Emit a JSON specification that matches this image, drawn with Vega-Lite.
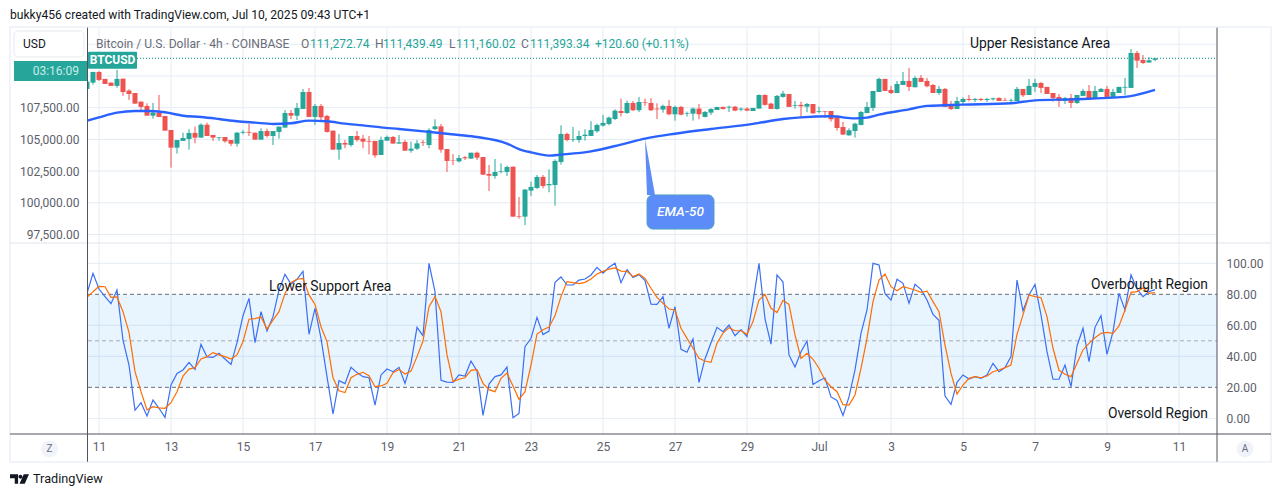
{
"$schema":"https://vega.github.io/schema/vega-lite/v6.json",
"width":1281,"height":497,"padding":0,
"autosize":{"type":"fit","contains":"padding"},
"background":"white",
"config":{"view":{"stroke":null},"font":"Roboto","axis":{"labelFont":"Roboto"}},
"datasets":{
"days":[{"t":"2025-06-11T00:00"},{"t":"2025-06-13T00:00"},{"t":"2025-06-15T00:00"},{"t":"2025-06-17T00:00"},{"t":"2025-06-19T00:00"},{"t":"2025-06-21T00:00"},{"t":"2025-06-23T00:00"},{"t":"2025-06-25T00:00"},{"t":"2025-06-27T00:00"},{"t":"2025-06-29T00:00"},{"t":"2025-07-01T00:00"},{"t":"2025-07-03T00:00"},{"t":"2025-07-05T00:00"},{"t":"2025-07-07T00:00"},{"t":"2025-07-09T00:00"},{"t":"2025-07-11T00:00"}],
"candles":[
{"t":"2025-06-10T16:00","o":108980,"h":109560,"l":108980,"c":109560,"k":80.6,"d":78.0},
{"t":"2025-06-10T20:00","o":109480,"h":110320,"l":109320,"c":110320,"k":93.5,"d":81.7},
{"t":"2025-06-11T00:00","o":110320,"h":110370,"l":109610,"c":109690,"k":83.4,"d":85.1},
{"t":"2025-06-11T04:00","o":109770,"h":109770,"l":109370,"c":109370,"k":78.5,"d":84.9},
{"t":"2025-06-11T08:00","o":109480,"h":109480,"l":109220,"c":109220,"k":74.0,"d":78.0},
{"t":"2025-06-11T12:00","o":109220,"h":110480,"l":109080,"c":109770,"k":82.8,"d":78.3},
{"t":"2025-06-11T16:00","o":109790,"h":109790,"l":108430,"c":108740,"k":50.5,"d":68.8},
{"t":"2025-06-11T20:00","o":108850,"h":108950,"l":108110,"c":108580,"k":34.4,"d":55.5},
{"t":"2025-06-12T00:00","o":108660,"h":108660,"l":107820,"c":107820,"k":5.2,"d":30.1},
{"t":"2025-06-12T04:00","o":107980,"h":107980,"l":107320,"c":107560,"k":10.1,"d":17.2},
{"t":"2025-06-12T08:00","o":107640,"h":107850,"l":106870,"c":106870,"k":1.5,"d":5.4},
{"t":"2025-06-12T12:00","o":106870,"h":107870,"l":106640,"c":107110,"k":11.8,"d":7.5},
{"t":"2025-06-12T16:00","o":107110,"h":108500,"l":106770,"c":106770,"k":6.5,"d":6.7},
{"t":"2025-06-12T20:00","o":106850,"h":106850,"l":105690,"c":105690,"k":0.6,"d":6.5},
{"t":"2025-06-13T00:00","o":105740,"h":105740,"l":102770,"c":104350,"k":21.5,"d":10.1},
{"t":"2025-06-13T04:00","o":104350,"h":104950,"l":103880,"c":104950,"k":29.0,"d":17.2},
{"t":"2025-06-13T08:00","o":104880,"h":105530,"l":104880,"c":105110,"k":31.2,"d":27.3},
{"t":"2025-06-13T12:00","o":105030,"h":105800,"l":104190,"c":105510,"k":36.1,"d":31.8},
{"t":"2025-06-13T16:00","o":105510,"h":106010,"l":104690,"c":105140,"k":31.6,"d":32.7},
{"t":"2025-06-13T20:00","o":105140,"h":106270,"l":105140,"c":106160,"k":47.7,"d":38.3},
{"t":"2025-06-14T00:00","o":106160,"h":106320,"l":105270,"c":105270,"k":39.6,"d":39.8},
{"t":"2025-06-14T04:00","o":105350,"h":105350,"l":104880,"c":105140,"k":39.3,"d":42.4},
{"t":"2025-06-14T08:00","o":105140,"h":105190,"l":104900,"c":105190,"k":41.9,"d":40.9},
{"t":"2025-06-14T12:00","o":105190,"h":105190,"l":104740,"c":104850,"k":38.3,"d":39.8},
{"t":"2025-06-14T16:00","o":104950,"h":104950,"l":104480,"c":104660,"k":34.8,"d":38.3},
{"t":"2025-06-14T20:00","o":104660,"h":105590,"l":104430,"c":105530,"k":48.8,"d":40.9},
{"t":"2025-06-15T00:00","o":105530,"h":105740,"l":105400,"c":105590,"k":66.2,"d":49.5},
{"t":"2025-06-15T04:00","o":105590,"h":106220,"l":105270,"c":105530,"k":77.4,"d":63.9},
{"t":"2025-06-15T08:00","o":105530,"h":105530,"l":104980,"c":104980,"k":48.8,"d":64.3},
{"t":"2025-06-15T12:00","o":104980,"h":105880,"l":104980,"c":105660,"k":68.8,"d":65.4},
{"t":"2025-06-15T16:00","o":105660,"h":105850,"l":105140,"c":105270,"k":56.3,"d":57.6},
{"t":"2025-06-15T20:00","o":105270,"h":105660,"l":104560,"c":105660,"k":65.6,"d":63.4},
{"t":"2025-06-16T00:00","o":105590,"h":106010,"l":105060,"c":106010,"k":82.8,"d":68.8},
{"t":"2025-06-16T04:00","o":105930,"h":107320,"l":105930,"c":107080,"k":92.9,"d":80.6},
{"t":"2025-06-16T08:00","o":107080,"h":107320,"l":106590,"c":106870,"k":86.6,"d":87.7},
{"t":"2025-06-16T12:00","o":106870,"h":107870,"l":106530,"c":107480,"k":89.7,"d":89.7},
{"t":"2025-06-16T16:00","o":107400,"h":108980,"l":107400,"c":108740,"k":94.8,"d":90.3},
{"t":"2025-06-16T20:00","o":108740,"h":109060,"l":106770,"c":106770,"k":54.2,"d":79.6},
{"t":"2025-06-17T00:00","o":106770,"h":107790,"l":106140,"c":107640,"k":71.0,"d":73.5},
{"t":"2025-06-17T04:00","o":107640,"h":107790,"l":106530,"c":106740,"k":51.6,"d":59.1},
{"t":"2025-06-17T08:00","o":106850,"h":106930,"l":105530,"c":105590,"k":26.9,"d":49.5},
{"t":"2025-06-17T12:00","o":105690,"h":105690,"l":104190,"c":104190,"k":2.8,"d":26.2},
{"t":"2025-06-17T16:00","o":104190,"h":105430,"l":103400,"c":104720,"k":24.3,"d":17.8},
{"t":"2025-06-17T20:00","o":104720,"h":104950,"l":104300,"c":104590,"k":22.4,"d":16.6},
{"t":"2025-06-18T00:00","o":104560,"h":105270,"l":104430,"c":105270,"k":32.9,"d":26.2},
{"t":"2025-06-18T04:00","o":105270,"h":105660,"l":104820,"c":104950,"k":29.5,"d":28.4},
{"t":"2025-06-18T08:00","o":105060,"h":105350,"l":104300,"c":104820,"k":26.9,"d":29.7},
{"t":"2025-06-18T12:00","o":104880,"h":105270,"l":103820,"c":104820,"k":26.2,"d":27.5},
{"t":"2025-06-18T16:00","o":104880,"h":104880,"l":103560,"c":103740,"k":8.6,"d":20.4},
{"t":"2025-06-18T20:00","o":103770,"h":105220,"l":103770,"c":104950,"k":28.0,"d":20.9},
{"t":"2025-06-19T00:00","o":104900,"h":105300,"l":104900,"c":105190,"k":31.8,"d":22.6},
{"t":"2025-06-19T04:00","o":105190,"h":105270,"l":104670,"c":104670,"k":30.1,"d":29.5},
{"t":"2025-06-19T08:00","o":104670,"h":105350,"l":104670,"c":104770,"k":32.9,"d":31.6},
{"t":"2025-06-19T12:00","o":104800,"h":104950,"l":104110,"c":104110,"k":22.6,"d":28.6},
{"t":"2025-06-19T16:00","o":104110,"h":104820,"l":103950,"c":104270,"k":35.5,"d":30.5},
{"t":"2025-06-19T20:00","o":104270,"h":104950,"l":104170,"c":104690,"k":58.7,"d":39.8},
{"t":"2025-06-20T00:00","o":104770,"h":104950,"l":104480,"c":104720,"k":53.3,"d":49.9},
{"t":"2025-06-20T04:00","o":104560,"h":105880,"l":104300,"c":105740,"k":100.0,"d":72.0},
{"t":"2025-06-20T08:00","o":105820,"h":106590,"l":105740,"c":106030,"k":81.7,"d":78.5},
{"t":"2025-06-20T12:00","o":106030,"h":106220,"l":103950,"c":104190,"k":24.5,"d":68.8},
{"t":"2025-06-20T16:00","o":104240,"h":104240,"l":102430,"c":103300,"k":23.4,"d":40.9},
{"t":"2025-06-20T20:00","o":103350,"h":103850,"l":102980,"c":103320,"k":23.2,"d":23.7},
{"t":"2025-06-21T00:00","o":103270,"h":103770,"l":103190,"c":103530,"k":28.0,"d":25.2},
{"t":"2025-06-21T04:00","o":103590,"h":103690,"l":103380,"c":103510,"k":27.3,"d":26.2},
{"t":"2025-06-21T08:00","o":103480,"h":103950,"l":103480,"c":103950,"k":37.0,"d":31.0},
{"t":"2025-06-21T12:00","o":103950,"h":104030,"l":103380,"c":103560,"k":30.5,"d":31.4},
{"t":"2025-06-21T16:00","o":103610,"h":103610,"l":102220,"c":102220,"k":1.9,"d":22.6},
{"t":"2025-06-21T20:00","o":102270,"h":102980,"l":100930,"c":102140,"k":22.1,"d":18.5},
{"t":"2025-06-22T00:00","o":102110,"h":103450,"l":101900,"c":102430,"k":26.9,"d":17.2},
{"t":"2025-06-22T04:00","o":102430,"h":103110,"l":102320,"c":102480,"k":28.0,"d":25.8},
{"t":"2025-06-22T08:00","o":102430,"h":102930,"l":102110,"c":102820,"k":33.1,"d":29.2},
{"t":"2025-06-22T12:00","o":102850,"h":102850,"l":98910,"c":98910,"k":0.4,"d":20.9},
{"t":"2025-06-22T16:00","o":98930,"h":100460,"l":98750,"c":98880,"k":3.2,"d":12.3},
{"t":"2025-06-22T20:00","o":98910,"h":101090,"l":98250,"c":101040,"k":46.2,"d":17.2},
{"t":"2025-06-23T00:00","o":100960,"h":101670,"l":100540,"c":101250,"k":51.6,"d":34.4},
{"t":"2025-06-23T04:00","o":101170,"h":102190,"l":101090,"c":102040,"k":65.1,"d":54.4},
{"t":"2025-06-23T08:00","o":102040,"h":102190,"l":101140,"c":101330,"k":54.0,"d":57.2},
{"t":"2025-06-23T12:00","o":101380,"h":102640,"l":100830,"c":101480,"k":56.3,"d":58.9},
{"t":"2025-06-23T16:00","o":101400,"h":103430,"l":99780,"c":103300,"k":87.7,"d":66.2},
{"t":"2025-06-23T20:00","o":103220,"h":106110,"l":103010,"c":105430,"k":91.2,"d":78.5},
{"t":"2025-06-24T00:00","o":105430,"h":105530,"l":104850,"c":104950,"k":86.0,"d":88.2},
{"t":"2025-06-24T04:00","o":104980,"h":105980,"l":104800,"c":105030,"k":86.0,"d":87.5},
{"t":"2025-06-24T08:00","o":104950,"h":105690,"l":104740,"c":105270,"k":89.2,"d":86.9},
{"t":"2025-06-24T12:00","o":105270,"h":105800,"l":104900,"c":105370,"k":89.9,"d":87.7},
{"t":"2025-06-24T16:00","o":105270,"h":106430,"l":105270,"c":105740,"k":92.5,"d":89.9},
{"t":"2025-06-24T20:00","o":105640,"h":106240,"l":105530,"c":106140,"k":97.4,"d":93.1},
{"t":"2025-06-25T00:00","o":106090,"h":106930,"l":106010,"c":106300,"k":93.7,"d":94.8},
{"t":"2025-06-25T04:00","o":106220,"h":106800,"l":106110,"c":106720,"k":97.4,"d":96.3},
{"t":"2025-06-25T08:00","o":106610,"h":107370,"l":106530,"c":107270,"k":100.0,"d":97.0},
{"t":"2025-06-25T12:00","o":107240,"h":108220,"l":106800,"c":107080,"k":87.5,"d":95.0},
{"t":"2025-06-25T16:00","o":107080,"h":108060,"l":107010,"c":107870,"k":95.9,"d":94.8},
{"t":"2025-06-25T20:00","o":107870,"h":108030,"l":107240,"c":107300,"k":90.9,"d":91.4},
{"t":"2025-06-26T00:00","o":107300,"h":108350,"l":107160,"c":107950,"k":92.7,"d":93.1},
{"t":"2025-06-26T04:00","o":107950,"h":108220,"l":107640,"c":107900,"k":88.8,"d":90.3},
{"t":"2025-06-26T08:00","o":107870,"h":108240,"l":107240,"c":107300,"k":73.7,"d":83.9},
{"t":"2025-06-26T12:00","o":107430,"h":107850,"l":106610,"c":107370,"k":73.5,"d":78.0},
{"t":"2025-06-26T16:00","o":107350,"h":107740,"l":107110,"c":107640,"k":78.5,"d":74.2},
{"t":"2025-06-26T20:00","o":107640,"h":108110,"l":106900,"c":106980,"k":58.1,"d":70.5},
{"t":"2025-06-27T00:00","o":106980,"h":107660,"l":106480,"c":107560,"k":72.0,"d":69.9},
{"t":"2025-06-27T04:00","o":107560,"h":107640,"l":106900,"c":106950,"k":44.5,"d":58.1},
{"t":"2025-06-27T08:00","o":107030,"h":107190,"l":106800,"c":107080,"k":42.6,"d":51.6},
{"t":"2025-06-27T12:00","o":107030,"h":107510,"l":106480,"c":107430,"k":51.2,"d":45.2},
{"t":"2025-06-27T16:00","o":107430,"h":107790,"l":106590,"c":106980,"k":23.2,"d":38.7},
{"t":"2025-06-27T20:00","o":106770,"h":107240,"l":106740,"c":107160,"k":38.3,"d":37.0},
{"t":"2025-06-28T00:00","o":107110,"h":107450,"l":106930,"c":107400,"k":48.8,"d":36.1},
{"t":"2025-06-28T04:00","o":107320,"h":107560,"l":107320,"c":107560,"k":58.7,"d":48.4},
{"t":"2025-06-28T08:00","o":107560,"h":107580,"l":107350,"c":107400,"k":55.9,"d":55.0},
{"t":"2025-06-28T12:00","o":107510,"h":107660,"l":107160,"c":107580,"k":60.2,"d":58.5},
{"t":"2025-06-28T16:00","o":107580,"h":107640,"l":107220,"c":107270,"k":53.3,"d":56.5},
{"t":"2025-06-28T20:00","o":107350,"h":107510,"l":107220,"c":107430,"k":57.2,"d":56.5},
{"t":"2025-06-29T00:00","o":107430,"h":107530,"l":107220,"c":107270,"k":52.7,"d":54.2},
{"t":"2025-06-29T04:00","o":107240,"h":107480,"l":107240,"c":107480,"k":75.3,"d":62.4},
{"t":"2025-06-29T08:00","o":107430,"h":108550,"l":107430,"c":108500,"k":100.0,"d":76.3},
{"t":"2025-06-29T12:00","o":108500,"h":108560,"l":107660,"c":107720,"k":64.1,"d":80.0},
{"t":"2025-06-29T16:00","o":107820,"h":107900,"l":107400,"c":107400,"k":47.9,"d":71.0},
{"t":"2025-06-29T20:00","o":107400,"h":108500,"l":107350,"c":108430,"k":92.5,"d":68.2},
{"t":"2025-06-30T00:00","o":108350,"h":108820,"l":108290,"c":108610,"k":87.9,"d":76.1},
{"t":"2025-06-30T04:00","o":108580,"h":108580,"l":107560,"c":107560,"k":40.9,"d":73.5},
{"t":"2025-06-30T08:00","o":107640,"h":108030,"l":107430,"c":107690,"k":33.1,"d":53.8},
{"t":"2025-06-30T12:00","o":107720,"h":107980,"l":106720,"c":107610,"k":43.0,"d":38.7},
{"t":"2025-06-30T16:00","o":107580,"h":107870,"l":107140,"c":107790,"k":49.9,"d":41.9},
{"t":"2025-06-30T20:00","o":107790,"h":107790,"l":107010,"c":107060,"k":21.9,"d":38.1},
{"t":"2025-07-01T00:00","o":107160,"h":107580,"l":107060,"c":107220,"k":24.3,"d":32.3},
{"t":"2025-07-01T04:00","o":107240,"h":107240,"l":106720,"c":107190,"k":26.0,"d":24.7},
{"t":"2025-07-01T08:00","o":107240,"h":107240,"l":106400,"c":106590,"k":13.8,"d":20.4},
{"t":"2025-07-01T12:00","o":106740,"h":106900,"l":105690,"c":105900,"k":11.6,"d":17.2},
{"t":"2025-07-01T16:00","o":105980,"h":106370,"l":105380,"c":105380,"k":1.9,"d":8.8},
{"t":"2025-07-01T20:00","o":105320,"h":105880,"l":105300,"c":105720,"k":13.8,"d":8.6},
{"t":"2025-07-02T00:00","o":105660,"h":106320,"l":105140,"c":106240,"k":31.2,"d":15.1},
{"t":"2025-07-02T04:00","o":106140,"h":107240,"l":106110,"c":107160,"k":54.8,"d":32.3},
{"t":"2025-07-02T08:00","o":107080,"h":107950,"l":107060,"c":107560,"k":69.9,"d":51.6},
{"t":"2025-07-02T12:00","o":107480,"h":108820,"l":107240,"c":108820,"k":100.0,"d":75.3},
{"t":"2025-07-02T16:00","o":108740,"h":109870,"l":108740,"c":109770,"k":98.9,"d":89.2},
{"t":"2025-07-02T20:00","o":109770,"h":109770,"l":108820,"c":108820,"k":80.4,"d":93.1},
{"t":"2025-07-03T00:00","o":108900,"h":109220,"l":108580,"c":108660,"k":76.3,"d":84.9},
{"t":"2025-07-03T04:00","o":108660,"h":109610,"l":108660,"c":109370,"k":89.7,"d":82.3},
{"t":"2025-07-03T08:00","o":109290,"h":110320,"l":109290,"c":109610,"k":87.1,"d":84.9},
{"t":"2025-07-03T12:00","o":109610,"h":110640,"l":108820,"c":109140,"k":74.2,"d":83.9},
{"t":"2025-07-03T16:00","o":109110,"h":109980,"l":109110,"c":109850,"k":86.4,"d":82.8},
{"t":"2025-07-03T20:00","o":109850,"h":110080,"l":109530,"c":109530,"k":83.2,"d":81.3},
{"t":"2025-07-04T00:00","o":109610,"h":109850,"l":109110,"c":109190,"k":76.3,"d":82.1},
{"t":"2025-07-04T04:00","o":109290,"h":109370,"l":108660,"c":108660,"k":67.1,"d":75.3},
{"t":"2025-07-04T08:00","o":108660,"h":109220,"l":108500,"c":108980,"k":63.2,"d":68.8},
{"t":"2025-07-04T12:00","o":108980,"h":109060,"l":107560,"c":107560,"k":14.4,"d":47.3},
{"t":"2025-07-04T16:00","o":107640,"h":108030,"l":107320,"c":107400,"k":9.0,"d":29.0},
{"t":"2025-07-04T20:00","o":107400,"h":108350,"l":107400,"c":108030,"k":23.2,"d":15.7},
{"t":"2025-07-05T00:00","o":107950,"h":108320,"l":107790,"c":108190,"k":28.0,"d":21.5},
{"t":"2025-07-05T04:00","o":108190,"h":108500,"l":108010,"c":108110,"k":25.4,"d":25.8},
{"t":"2025-07-05T08:00","o":108110,"h":108270,"l":107950,"c":108190,"k":26.9,"d":26.9},
{"t":"2025-07-05T12:00","o":108190,"h":108270,"l":108010,"c":108110,"k":25.8,"d":26.2},
{"t":"2025-07-05T16:00","o":108110,"h":108270,"l":107950,"c":108190,"k":28.0,"d":27.3},
{"t":"2025-07-05T20:00","o":108160,"h":108290,"l":108060,"c":108240,"k":35.5,"d":30.1},
{"t":"2025-07-06T00:00","o":108270,"h":108320,"l":108030,"c":108030,"k":30.1,"d":31.2},
{"t":"2025-07-06T04:00","o":108110,"h":108270,"l":108060,"c":108060,"k":32.7,"d":32.7},
{"t":"2025-07-06T08:00","o":108060,"h":108220,"l":107870,"c":108110,"k":39.8,"d":34.4},
{"t":"2025-07-06T12:00","o":108030,"h":109140,"l":108030,"c":108980,"k":89.2,"d":54.2},
{"t":"2025-07-06T16:00","o":108980,"h":108980,"l":108350,"c":108480,"k":69.4,"d":66.7},
{"t":"2025-07-06T20:00","o":108500,"h":109770,"l":108500,"c":109220,"k":79.6,"d":79.6},
{"t":"2025-07-07T00:00","o":109140,"h":109770,"l":108740,"c":109450,"k":86.4,"d":78.5},
{"t":"2025-07-07T04:00","o":109450,"h":109530,"l":108660,"c":109060,"k":66.7,"d":77.8},
{"t":"2025-07-07T08:00","o":109140,"h":109140,"l":108580,"c":108580,"k":43.0,"d":65.6},
{"t":"2025-07-07T12:00","o":108660,"h":108660,"l":107980,"c":108270,"k":25.2,"d":45.2},
{"t":"2025-07-07T16:00","o":108350,"h":108580,"l":107560,"c":108030,"k":25.2,"d":31.0},
{"t":"2025-07-07T20:00","o":108030,"h":108350,"l":107790,"c":108270,"k":34.4,"d":28.4},
{"t":"2025-07-08T00:00","o":108270,"h":108580,"l":107480,"c":107870,"k":20.4,"d":26.9},
{"t":"2025-07-08T04:00","o":107870,"h":108500,"l":107790,"c":108500,"k":46.7,"d":35.5},
{"t":"2025-07-08T08:00","o":108430,"h":108980,"l":108430,"c":108820,"k":58.1,"d":44.1},
{"t":"2025-07-08T12:00","o":108820,"h":109290,"l":108190,"c":108190,"k":36.6,"d":48.4},
{"t":"2025-07-08T16:00","o":108190,"h":109220,"l":108190,"c":108820,"k":58.7,"d":52.0},
{"t":"2025-07-08T20:00","o":108740,"h":109060,"l":108740,"c":108980,"k":66.2,"d":54.8},
{"t":"2025-07-09T00:00","o":108980,"h":109220,"l":108350,"c":108350,"k":41.3,"d":55.5},
{"t":"2025-07-09T04:00","o":108350,"h":108980,"l":108350,"c":108740,"k":55.9,"d":54.8},
{"t":"2025-07-09T08:00","o":108660,"h":109140,"l":108660,"c":109140,"k":80.6,"d":59.6},
{"t":"2025-07-09T12:00","o":109080,"h":109850,"l":108500,"c":109140,"k":69.9,"d":69.9},
{"t":"2025-07-09T16:00","o":109060,"h":112130,"l":109060,"c":111820,"k":92.5,"d":81.3},
{"t":"2025-07-09T20:00","o":111820,"h":111980,"l":110640,"c":111210,"k":83.4,"d":81.7},
{"t":"2025-07-10T00:00","o":111270,"h":111660,"l":110950,"c":111030,"k":78.5,"d":84.1},
{"t":"2025-07-10T04:00","o":111060,"h":111500,"l":111060,"c":111240,"k":81.7,"d":80.6},
{"t":"2025-07-10T08:00","o":111272.74,"h":111439.49,"l":111160.02,"c":111393.34,"k":83.0,"d":81.1}
],
"ema":[
{"t":"2025-06-10T16:00","p":106480},{"t":"2025-06-11T00:00","p":106740},{"t":"2025-06-11T12:00","p":107110},{"t":"2025-06-12T00:00","p":107240},{"t":"2025-06-12T08:00","p":107240},{"t":"2025-06-12T20:00","p":107140},{"t":"2025-06-13T08:00","p":106870},{"t":"2025-06-13T20:00","p":106770},{"t":"2025-06-14T08:00","p":106610},{"t":"2025-06-14T20:00","p":106430},{"t":"2025-06-15T08:00","p":106320},{"t":"2025-06-15T20:00","p":106220},{"t":"2025-06-16T08:00","p":106270},{"t":"2025-06-16T20:00","p":106480},{"t":"2025-06-17T08:00","p":106430},{"t":"2025-06-17T20:00","p":106240},{"t":"2025-06-18T08:00","p":106110},{"t":"2025-06-18T20:00","p":105950},{"t":"2025-06-19T08:00","p":105820},{"t":"2025-06-20T04:00","p":105590},{"t":"2025-06-21T00:00","p":105350},{"t":"2025-06-21T12:00","p":105190},{"t":"2025-06-22T08:00","p":104670},{"t":"2025-06-22T16:00","p":104240},{"t":"2025-06-23T00:00","p":103980},{"t":"2025-06-23T12:00","p":103720},{"t":"2025-06-23T20:00","p":103800},{"t":"2025-06-24T16:00","p":104060},{"t":"2025-06-25T12:00","p":104590},{"t":"2025-06-26T04:00","p":105060},{"t":"2025-06-27T00:00","p":105450},{"t":"2025-06-28T00:00","p":105820},{"t":"2025-06-29T04:00","p":106220},{"t":"2025-06-30T00:00","p":106610},{"t":"2025-06-30T12:00","p":106740},{"t":"2025-07-01T08:00","p":106820},{"t":"2025-07-02T00:00","p":106660},{"t":"2025-07-02T08:00","p":106720},{"t":"2025-07-02T16:00","p":106950},{"t":"2025-07-03T12:00","p":107370},{"t":"2025-07-04T00:00","p":107640},{"t":"2025-07-04T12:00","p":107690},{"t":"2025-07-05T00:00","p":107740},{"t":"2025-07-06T08:00","p":107850},{"t":"2025-07-07T00:00","p":108080},{"t":"2025-07-08T00:00","p":108160},{"t":"2025-07-09T12:00","p":108350},{"t":"2025-07-10T08:00","p":108900}
]
},
"resolve":{"scale":{"y":"independent"},"axis":{"y":"independent"}},
"layer":[
{"layer":[
{"data":{"values":[{"p":97500,"a":"2025-06-10T16:40","b":"2025-07-12T01:20"},{"p":100000,"a":"2025-06-10T16:40","b":"2025-07-12T01:20"},{"p":102500,"a":"2025-06-10T16:40","b":"2025-07-12T01:20"},{"p":105000,"a":"2025-06-10T16:40","b":"2025-07-12T01:20"},{"p":107500,"a":"2025-06-10T16:40","b":"2025-07-12T01:20"},{"p":110000,"a":"2025-06-10T16:40","b":"2025-07-12T01:20"},{"p":112500,"a":"2025-06-10T16:40","b":"2025-07-12T01:20"}]},
 "mark":{"type":"rule","color":"#e4ecf3","strokeWidth":1},
 "encoding":{
  "y":{"field":"p","type":"quantitative","scale":{"domain":[96830,113785],"range":[243,28],"zero":false,"nice":false},
   "axis":{"orient":"left","offset":-88,"title":null,"grid":false,"ticks":false,"domain":false,"zindex":1,"labelPadding":9,"labelFontSize":12,"labelColor":"#5d606b","format":",.2f","values":[97500,100000,102500,105000,107500]}},
  "x":{"field":"a","type":"temporal"},
  "x2":{"field":"b"}}},
{"data":{"name":"days"},
 "mark":{"type":"rule","color":"#e4ecf3","strokeWidth":1},
 "encoding":{"x":{"field":"t","type":"temporal"},"y":{"datum":96830},"y2":{"datum":113785}}},
{"mark":{"type":"rule","color":"#26a69a","strokeWidth":1.3,"strokeDash":[1,2]},
 "data":{"values":[{"p":111393.34,"a":"2025-06-12T01:20","b":"2025-07-12T01:20"}]},
 "encoding":{"y":{"field":"p","type":"quantitative"},"x":{"field":"a","type":"temporal"},"x2":{"field":"b"}}},
{"data":{"name":"candles"},
 "mark":{"type":"rule","strokeWidth":1},
 "encoding":{"x":{"field":"t","type":"temporal"},"y":{"field":"l","type":"quantitative"},"y2":{"field":"h"},
  "color":{"condition":{"test":"datum.c>=datum.o","value":"#26a69a"},"value":"#ef5350"}}},
{"data":{"name":"candles"},
 "mark":{"type":"bar","size":5},
 "encoding":{"x":{"field":"t","type":"temporal"},"y":{"field":"o","type":"quantitative"},"y2":{"field":"c"},
  "color":{"condition":{"test":"datum.c>=datum.o","value":"#26a69a"},"value":"#ef5350"}}},
{"data":{"name":"ema"},
 "mark":{"type":"line","color":"#2962ff","strokeWidth":2.4,"interpolate":"monotone"},
 "encoding":{"x":{"field":"t","type":"temporal"},"y":{"field":"p","type":"quantitative"}}},
{"data":{"values":[{"p":105060,"a":"2025-06-26T04:00","b":"2025-06-26T04:00"},{"p":100620,"a":"2025-06-26T05:20","b":"2025-06-26T10:40"}]},
 "mark":{"type":"area","orient":"horizontal","color":"#5b8cf8","line":false},
 "encoding":{"y":{"field":"p","type":"quantitative"},"x":{"field":"a","type":"temporal"},"x2":{"field":"b"}}},
{"data":{"values":[{"a":"2025-06-26T05:20","b":"2025-06-28T02:00","p":100620,"q":97930}]},
 "mark":{"type":"rect","color":"#5b8cf8","stroke":"#4fa3c7","strokeWidth":1,"cornerRadius":6},
 "encoding":{"x":{"field":"a","type":"temporal"},"x2":{"field":"b"},"y":{"field":"p","type":"quantitative"},"y2":{"field":"q"}}},
{"data":{"values":[{"t":"2025-06-27T03:40","p":99270,"label":"EMA-50"}]},
 "mark":{"type":"text","color":"white","fontSize":13.5,"fontStyle":"italic","fontWeight":500,"align":"center","baseline":"middle"},
 "encoding":{"x":{"field":"t","type":"temporal"},"y":{"field":"p","type":"quantitative"},"text":{"field":"label"}}},
{"data":{"values":[{"t":"2025-07-05T04:40","p":112520,"label":"Upper Resistance Area"}]},
 "mark":{"type":"text","color":"#131722","fontSize":13.9,"align":"left","baseline":"middle"},
 "encoding":{"x":{"field":"t","type":"temporal"},"y":{"field":"p","type":"quantitative"},"text":{"field":"label"}}}
]},
{"layer":[
{"data":{"values":[{"v":100,"a":"2025-06-10T16:40","b":"2025-07-12T01:20"},{"v":60,"a":"2025-06-10T16:40","b":"2025-07-12T01:20"},{"v":40,"a":"2025-06-10T16:40","b":"2025-07-12T01:20"},{"v":0,"a":"2025-06-10T16:40","b":"2025-07-12T01:20"}]},
 "mark":{"type":"rule","color":"#e4ecf3","strokeWidth":1},
 "encoding":{
  "y":{"field":"v","type":"quantitative","scale":{"domain":[-10.1,113.1],"range":[434,243],"zero":false,"nice":false},
   "axis":{"orient":"right","offset":-64,"title":null,"grid":false,"ticks":false,"domain":false,"labelPadding":9,"labelFontSize":12,"labelColor":"#5d606b","format":".2f","values":[0,20,40,60,80,100]}},
  "x":{"field":"a","type":"temporal"},
  "x2":{"field":"b"}}},
{"data":{"name":"days"},
 "mark":{"type":"rule","color":"#e4ecf3","strokeWidth":1},
 "encoding":{
  "x":{"field":"t","type":"temporal","scale":{"domain":["2025-06-10T16:40","2025-07-12T01:20"],"range":[88,1217],"padding":0},
   "axis":{"orient":"bottom","offset":-63,"title":null,"grid":false,"ticks":false,"domain":false,"labelPadding":7,"labelFontSize":12,"labelColor":"#5d606b","labelOverlap":false,"labelFlush":false,"values":["2025-06-11T00:00","2025-06-13T00:00","2025-06-15T00:00","2025-06-17T00:00","2025-06-19T00:00","2025-06-21T00:00","2025-06-23T00:00","2025-06-25T00:00","2025-06-27T00:00","2025-06-29T00:00","2025-07-01T00:00","2025-07-03T00:00","2025-07-05T00:00","2025-07-07T00:00","2025-07-09T00:00","2025-07-11T00:00"],"labelExpr":"date(datum.value)==1?'Jul':''+date(datum.value)"}},
  "y":{"datum":-10.1},"y2":{"datum":113.1}}},
{"data":{"values":[{"v":80,"w":20,"a":"2025-06-10T16:40","b":"2025-07-12T01:20"}]},
 "mark":{"type":"rect","color":"#2196f3","opacity":0.1},
 "encoding":{"x":{"field":"a","type":"temporal"},"x2":{"field":"b"},"y":{"field":"v","type":"quantitative"},"y2":{"field":"w"}}},
{"data":{"values":[{"v":80,"a":"2025-06-10T16:40","b":"2025-07-12T01:20"},{"v":20,"a":"2025-06-10T16:40","b":"2025-07-12T01:20"}]},
 "mark":{"type":"rule","color":"#6a6d78","strokeWidth":1,"strokeDash":[4,3]},
 "encoding":{"y":{"field":"v","type":"quantitative"},"x":{"field":"a","type":"temporal"},"x2":{"field":"b"}}},
{"data":{"values":[{"v":50,"a":"2025-06-10T16:40","b":"2025-07-12T01:20"}]},
 "mark":{"type":"rule","color":"#a9acb5","strokeWidth":1,"strokeDash":[4,3]},
 "encoding":{"y":{"field":"v","type":"quantitative"},"x":{"field":"a","type":"temporal"},"x2":{"field":"b"}}},
{"data":{"name":"candles"},
 "mark":{"type":"line","color":"#3a6ff5","strokeWidth":1.2},
 "encoding":{"x":{"field":"t","type":"temporal"},"y":{"field":"k","type":"quantitative"}}},
{"data":{"name":"candles"},
 "mark":{"type":"line","color":"#ff6d00","strokeWidth":1.2},
 "encoding":{"x":{"field":"t","type":"temporal"},"y":{"field":"d","type":"quantitative"}}},
{"data":{"values":[{"t":"2025-06-15T17:20","v":84.8,"label":"Lower Support Area"}]},
 "mark":{"type":"text","color":"#131722","fontSize":13.9,"align":"left","baseline":"middle"},
 "encoding":{"x":{"field":"t","type":"temporal"},"y":{"field":"v","type":"quantitative"},"text":{"field":"label"}}},
{"data":{"values":[{"t":"2025-07-11T19:20","v":86,"label":"Overbought Region"},{"t":"2025-07-11T19:20","v":2.8,"label":"Oversold Region"}]},
 "mark":{"type":"text","color":"#131722","fontSize":13.8,"align":"right","baseline":"middle"},
 "encoding":{"x":{"field":"t","type":"temporal"},"y":{"field":"v","type":"quantitative"},"text":{"field":"label"}}},
{"data":{"values":[{"a":"2025-06-08T13:00","b":"2025-06-10T16:20","v":252,"w":-10}]},
 "mark":{"type":"rect","color":"white"},
 "encoding":{"x":{"field":"a","type":"temporal"},"x2":{"field":"b"},"y":{"field":"v","type":"quantitative"},"y2":{"field":"w"}}},
{"data":{"values":[{"a":"2025-06-08T12:40","b":"2025-07-13T13:20","v":252.5,"w":-28.2}]},
 "mark":{"type":"rect","filled":false,"stroke":"#f0f3fa","strokeWidth":2},
 "encoding":{"x":{"field":"a","type":"temporal"},"x2":{"field":"b"},"y":{"field":"v","type":"quantitative"},"y2":{"field":"w"}}},
{"data":{"values":[{"a":"2025-06-08T12:40","b":"2025-07-13T13:20","v":113.1}]},
 "mark":{"type":"rule","color":"#e0e3eb","strokeWidth":1},
 "encoding":{"x":{"field":"a","type":"temporal"},"x2":{"field":"b"},"y":{"field":"v","type":"quantitative"}}},
{"data":{"values":[{"a":"2025-06-08T12:40","b":"2025-07-13T13:20","v":-10.1}]},
 "mark":{"type":"rule","color":"#50535e","strokeWidth":1},
 "encoding":{"x":{"field":"a","type":"temporal"},"x2":{"field":"b"},"y":{"field":"v","type":"quantitative"}}},
{"data":{"values":[{"t":"2025-06-10T16:20","v":252,"w":-28},{"t":"2025-07-12T01:20","v":252,"w":-28}]},
 "mark":{"type":"rule","color":"#50535e","strokeWidth":1},
 "encoding":{"x":{"field":"t","type":"temporal"},"y":{"field":"v","type":"quantitative"},"y2":{"field":"w"}}},
{"data":{"values":[{"a":"2025-06-08T15:20","b":"2025-06-10T14:00","v":249.9,"w":233.1}]},
 "mark":{"type":"rect","fill":"white","stroke":"#e8eaf0","strokeWidth":1,"cornerRadius":4},
 "encoding":{"x":{"field":"a","type":"temporal"},"x2":{"field":"b"},"y":{"field":"v","type":"quantitative"},"y2":{"field":"w"}}},
{"data":{"values":[{"a":"2025-06-08T15:20","b":"2025-06-10T16:00","v":230.5,"w":217.6}]},
 "mark":{"type":"rect","color":"#26a69a"},
 "encoding":{"x":{"field":"a","type":"temporal"},"x2":{"field":"b"},"y":{"field":"v","type":"quantitative"},"y2":{"field":"w"}}},
{"data":{"values":[{"a":"2025-06-10T16:40","b":"2025-06-12T01:20","v":236.5,"w":225.5}]},
 "mark":{"type":"rect","color":"#26a69a","cornerRadius":1},
 "encoding":{"x":{"field":"a","type":"temporal"},"x2":{"field":"b"},"y":{"field":"v","type":"quantitative"},"y2":{"field":"w"}}},
{"data":{"values":[{"t":"2025-06-08T21:20","v":241.5,"label":"USD"}]},
 "mark":{"type":"text","color":"#131722","fontSize":12,"align":"left","baseline":"middle"},
 "encoding":{"x":{"field":"t","type":"temporal"},"y":{"field":"v","type":"quantitative"},"text":{"field":"label"}}},
{"data":{"values":[{"t":"2025-06-10T10:40","v":224,"label":"03:16:09"}]},
 "mark":{"type":"text","color":"#c9ece8","fontSize":12,"align":"right","baseline":"middle"},
 "encoding":{"x":{"field":"t","type":"temporal"},"y":{"field":"v","type":"quantitative"},"text":{"field":"label"}}},
{"data":{"values":[{"t":"2025-06-11T09:00","v":231,"label":"BTCUSD"}]},
 "mark":{"type":"text","color":"white","fontSize":12,"fontWeight":"bold","align":"center","baseline":"middle"},
 "encoding":{"x":{"field":"t","type":"temporal"},"y":{"field":"v","type":"quantitative"},"text":{"field":"label"}}},
{"data":{"values":[{"t":"2025-06-08T12:40","v":260.2,"label":"bukky456 created with TradingView.com, Jul 10, 2025 09:43 UTC+1"}]},
 "mark":{"type":"text","color":"#131722","fontSize":12.1,"align":"left","baseline":"middle"},
 "encoding":{"x":{"field":"t","type":"temporal"},"y":{"field":"v","type":"quantitative"},"text":{"field":"label"}}},
{"data":{"values":[{"t":"2025-06-10T22:00","label":"Bitcoin / U.S. Dollar · 4h · COINBASE"},{"t":"2025-06-16T14:40","label":"O"},{"t":"2025-06-18T16:00","label":"H"},{"t":"2025-06-20T17:20","label":"L"},{"t":"2025-06-22T17:20","label":"C"}]},
 "mark":{"type":"text","color":"#6a6d78","fontSize":12.1,"align":"left","baseline":"middle"},
 "encoding":{"x":{"field":"t","type":"temporal"},"y":{"datum":241.5},"text":{"field":"label"}}},
{"data":{"values":[{"t":"2025-06-16T20:40","label":"111,272.74"},{"t":"2025-06-18T21:20","label":"111,439.49"},{"t":"2025-06-20T22:00","label":"111,160.02"},{"t":"2025-06-22T23:20","label":"111,393.34"},{"t":"2025-06-24T18:40","label":"+120.60 (+0.11%)"}]},
 "mark":{"type":"text","color":"#26a69a","fontSize":12,"align":"left","baseline":"middle"},
 "encoding":{"x":{"field":"t","type":"temporal"},"y":{"datum":241.5},"text":{"field":"label"}}},
{"data":{"values":[{"t":"2025-06-09T15:00","label":"Z"},{"t":"2025-07-12T20:00","label":"A"}]},
 "mark":{"type":"point","shape":"circle","filled":true,"size":283,"color":"#f0f3fa","opacity":1},
 "encoding":{"x":{"field":"t","type":"temporal"},"y":{"datum":-19.8}}},
{"data":{"values":[{"t":"2025-06-09T15:00","label":"Z"},{"t":"2025-07-12T20:00","label":"A"}]},
 "mark":{"type":"text","color":"#6a6d78","fontSize":10,"align":"center","baseline":"middle"},
 "encoding":{"x":{"field":"t","type":"temporal"},"y":{"datum":-19.8},"text":{"field":"label"}}},
{"data":{"values":[{"t":"2025-06-08T19:00"}]},
 "mark":{"type":"point","filled":true,"size":361,"color":"#131722","opacity":1,"strokeWidth":0,"shape":"M-1 -0.5H-0.15V0.5H-0.5V-0.1H-1ZM0.45 -0.5H1L0.55 0.5H0ZM0.3 -0.25A0.2 0.2 0 1 1 -0.1 -0.25A0.2 0.2 0 1 1 0.3 -0.25Z"},
 "encoding":{"x":{"field":"t","type":"temporal"},"y":{"datum":-39.2}}},
{"data":{"values":[{"t":"2025-06-09T04:00","label":"TradingView"}]},
 "mark":{"type":"text","color":"#131722","fontSize":12.7,"align":"left","baseline":"middle"},
 "encoding":{"x":{"field":"t","type":"temporal"},"y":{"datum":-39.2},"text":{"field":"label"}}}
]}
]
}
